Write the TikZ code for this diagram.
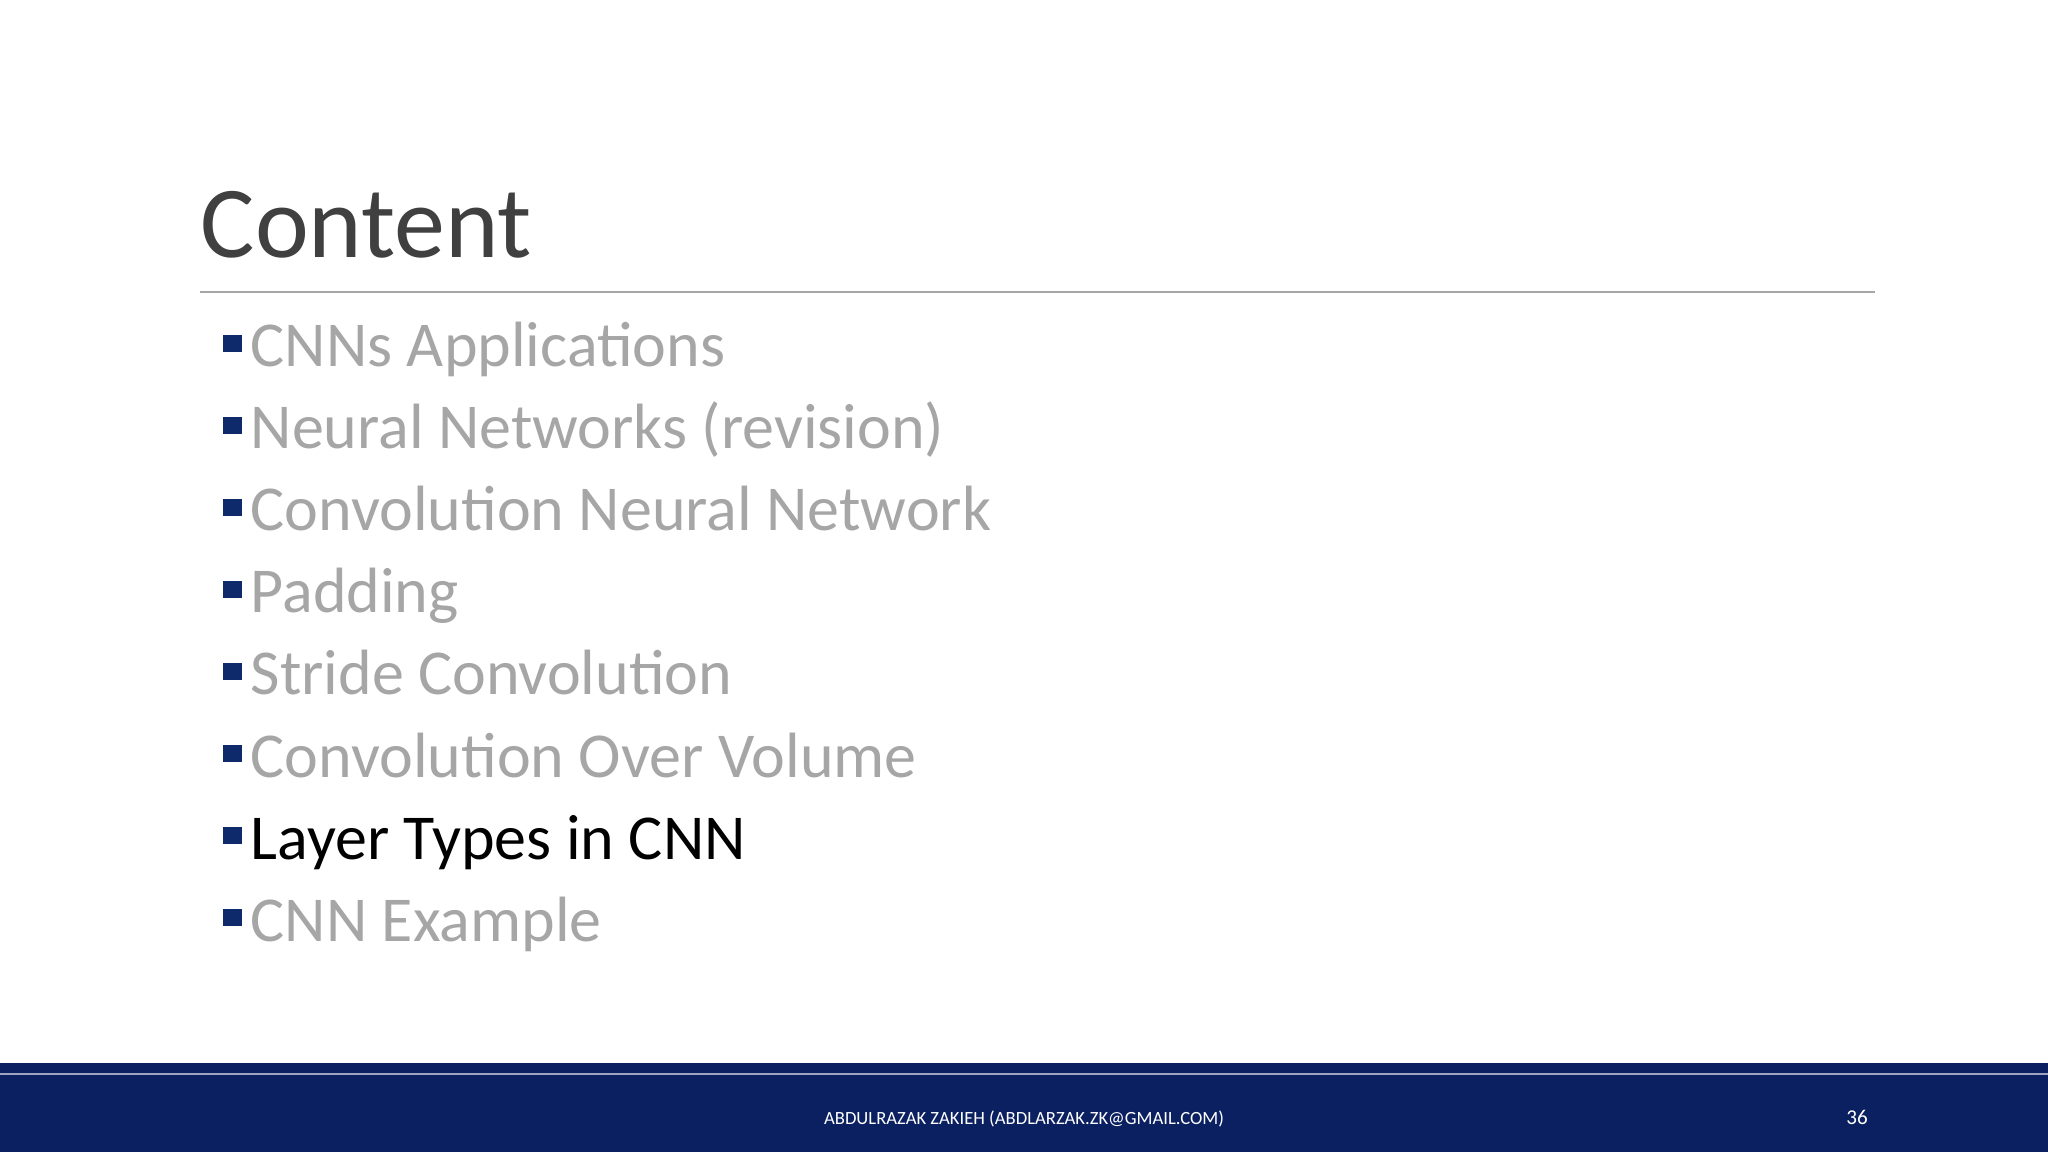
\documentclass[tikz,border=0pt]{standalone}
\usepackage{fontspec}
\setmainfont{Carlito}
\definecolor{navy}{HTML}{0B2060}
\definecolor{bul}{HTML}{0E2A6B}
\definecolor{itemgray}{HTML}{A6A6A6}
\definecolor{titlegray}{HTML}{404040}
\begin{document}
\begin{tikzpicture}[x=0.01cm,y=-0.01cm,
  item/.style={anchor=base west,inner sep=0pt,font=\fontsize{18.2}{20}\selectfont,text=itemgray},
  bulletsq/.style={fill=bul,draw=none}]
\useasboundingbox (0,0) rectangle (2048,1152);
\fill[white] (0,0) rectangle (2048,1152);
\node[anchor=base west,inner sep=0pt,font=\fontsize{29}{32}\selectfont,text=titlegray] (title) at (200,258) {Content};
\draw[gray!70,line width=0.4pt] (200,292) -- (1875,292);
\foreach \t [count=\i] in {CNNs Applications,Neural Networks (revision),Convolution Neural Network,Padding,Stride Convolution,Convolution Over Volume,Layer Types in CNN,CNN Example}{
  \pgfmathsetmacro{\yy}{367+82*(\i-1)}
  \fill[bul] (223,\yy-32) rectangle (242,\yy-15);
  \ifnum\i=7
    \node[item,text=black] (it\i) at (250,\yy) {\t};
  \else
    \node[item] (it\i) at (250,\yy) {\t};
  \fi
}
\fill[navy] (0,1063) rectangle (2048,1152);
\draw[white!60!navy,line width=0.5pt] (0,1074) -- (2048,1074);
\node[anchor=base,inner sep=0pt,text=white,font=\fontsize{5.3}{6}\selectfont] (foot) at (1024,1124) {ABDULRAZAK ZAKIEH (ABDLARZAK.ZK@GMAIL.COM)};
\node[anchor=base,inner sep=0pt,text=white,font=\fontsize{6}{7}\selectfont] (num) at (1857,1124) {36};
\end{tikzpicture}
\end{document}
